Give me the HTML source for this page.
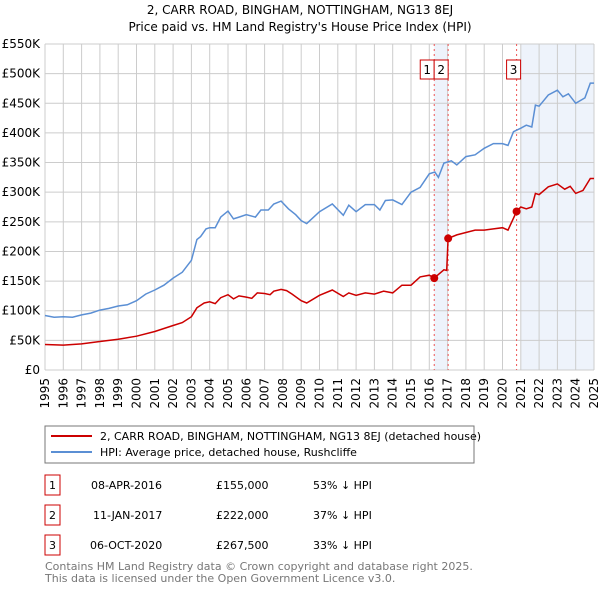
<!DOCTYPE html>
<html><head><meta charset="utf-8"><style>
body{margin:0;background:#fff;font-family:"Liberation Sans","DejaVu Sans",sans-serif;}
svg text{font-family:"DejaVu Sans","Liberation Sans",sans-serif;}
</style></head><body>
<svg id="c" width="600" height="590" xmlns="http://www.w3.org/2000/svg">
<text x="300" y="14" font-size="12" text-anchor="middle" fill="#000">2, CARR ROAD, BINGHAM, NOTTINGHAM, NG13 8EJ</text>
<text x="300" y="31" font-size="12" text-anchor="middle" fill="#000">Price paid vs. HM Land Registry's House Price Index (HPI)</text>
<g id="grid"></g><g id="marks"></g>
<rect x="45" y="426" width="429" height="37" fill="#fff" stroke="#777"/>
<line x1="51" y1="436" x2="92" y2="436" stroke="#cc0000" stroke-width="2"/>
<text x="100" y="440" font-size="11">2, CARR ROAD, BINGHAM, NOTTINGHAM, NG13 8EJ (detached house)</text>
<line x1="51" y1="452" x2="92" y2="452" stroke="#5b8fd4" stroke-width="2"/>
<text x="100" y="456" font-size="11">HPI: Average price, detached house, Rushcliffe</text>
<g font-size="11">
<rect x="45" y="475" width="15" height="20" fill="none" stroke="#cc0000"/><text x="52.5" y="489" text-anchor="middle">1</text>
<text x="91" y="489">08-APR-2016</text><text x="216" y="489">£155,000</text><text x="313" y="489">53% ↓ HPI</text>
<rect x="45" y="505" width="15" height="20" fill="none" stroke="#cc0000"/><text x="52.5" y="519" text-anchor="middle">2</text>
<text x="93" y="519">11-JAN-2017</text><text x="216" y="519">£222,000</text><text x="313" y="519">37% ↓ HPI</text>
<rect x="45" y="535" width="15" height="20" fill="none" stroke="#cc0000"/><text x="52.5" y="549" text-anchor="middle">3</text>
<text x="90" y="549">06-OCT-2020</text><text x="216" y="549">£267,500</text><text x="313" y="549">33% ↓ HPI</text>
</g>
<text x="45" y="570" font-size="11" fill="#777">Contains HM Land Registry data © Crown copyright and database right 2025.</text>
<text x="45" y="582" font-size="11" fill="#777">This data is licensed under the Open Government Licence v3.0.</text>
</svg>
<script>
const hpiT=[1995,1995.5,1996,1996.5,1997,1997.5,1998,1998.5,1999,1999.5,2000,2000.5,2001,2001.5,2002,2002.5,2003,2003.3,2003.5,2003.8,2004,2004.3,2004.6,2005,2005.3,2005.6,2006,2006.5,2006.8,2007.2,2007.5,2007.9,2008.3,2008.7,2009,2009.3,2010,2010.7,2011.3,2011.6,2012,2012.5,2013,2013.3,2013.6,2014,2014.5,2015,2015.5,2016,2016.3,2016.5,2016.8,2017.2,2017.5,2018,2018.5,2019,2019.5,2020,2020.3,2020.6,2021,2021.3,2021.6,2021.8,2022,2022.5,2023,2023.3,2023.6,2024,2024.5,2024.8,2025];
const hpiV=[92,89,90,89,93,96,101,104,108,110,117,128,135,143,155,165,185,220,225,238,240,240,258,268,255,258,262,258,270,270,280,285,272,262,252,247,267,280,261,278,267,279,279,270,286,287,279,300,308,331,334,325,349,353,346,360,363,374,382,382,379,402,408,413,410,447,445,464,472,461,466,450,459,484,484];
const priceT=[1995,1996,1997,1998,1999,2000,2001,2002,2002.5,2003,2003.3,2003.7,2004,2004.3,2004.6,2005,2005.3,2005.6,2006,2006.3,2006.6,2007,2007.3,2007.5,2007.9,2008.2,2008.5,2009,2009.3,2010,2010.7,2011.3,2011.6,2012,2012.5,2013,2013.5,2014,2014.5,2015,2015.5,2016,2016.27,2016.8,2016.95,2017.03,2017.5,2018,2018.5,2019,2019.5,2020,2020.3,2020.77,2021,2021.3,2021.6,2021.8,2022,2022.5,2023,2023.4,2023.7,2024,2024.4,2024.8,2025];
const priceV=[43,42,44,48,52,57,65,75,80,90,105,113,115,112,122,127,120,125,123,121,130,129,127,133,136,134,128,117,113,126,135,124,130,126,130,128,133,130,143,143,157,160,155,169,168,222,228,232,236,236,238,240,236,267.5,275,272,275,298,296,309,314,305,310,298,303,323,323];
const saleT=[2016.27,2017.03,2020.77];
const saleV=[155,222,267.5];
const saleLabels=["1","2","3"];
const yTicks=[0,50,100,150,200,250,300,350,400,450,500,550];
const yTickLabels=["£0","£50K","£100K","£150K","£200K","£250K","£300K","£350K","£400K","£450K","£500K","£550K"];
const years=[1995,1996,1997,1998,1999,2000,2001,2002,2003,2004,2005,2006,2007,2008,2009,2010,2011,2012,2013,2014,2015,2016,2017,2018,2019,2020,2021,2022,2023,2024,2025];
const NS="http://www.w3.org/2000/svg";
const X=t=>45+(t-1995)*549/30, Y=v=>370-v*326/550;
function mk(p,tag,a){const e=document.createElementNS(NS,tag);for(const k in a)e.setAttribute(k,a[k]);p.appendChild(e);return e;}
const g=document.getElementById('grid'),m=document.getElementById('marks');
let s=mk(g,'rect',{x:X(saleT[0]),y:44,width:X(saleT[1])-X(saleT[0]),height:326,fill:'#eef3fb'});


s=mk(g,'rect',{x:X(2021),y:44,width:X(2025)-X(2021),height:326,fill:'#eef3fb'});


yTicks.forEach((v,i)=>{
 const l=mk(g,'line',{x1:45,x2:594,y1:Y(v),y2:Y(v),stroke:'#ccc'});
 
 
 const t=mk(g,'text',{x:40,y:Y(v)+4,'font-size':12,'text-anchor':'end'});t.textContent=yTickLabels[i];
 
 
});
years.forEach(yr=>{
 const l=mk(g,'line',{x1:X(yr),x2:X(yr),y1:44,y2:370,stroke:'#ccc'});
 
 
 const tx=X(yr)+4, ty=378;
 const t=mk(g,'text',{x:tx,y:ty,'font-size':12,'text-anchor':'end',transform:'rotate(-90 '+tx+' '+ty+')'});t.textContent=yr;
 
 
});
saleT.forEach((t,i)=>{
 const l=mk(m,'line',{x1:X(t),x2:X(t),y1:44,y2:370,stroke:'#e55','stroke-dasharray':'2,3'});
 
 
 const bx=i==0?X(t)-14:(i==1?X(t)-14:X(t)-10);
 const r=mk(m,'rect',{x:bx,y:60,width:14,height:19,fill:'#fff',stroke:'#cc0000'});
 
 
 const tx=mk(m,'text',{x:bx+7,y:74,'font-size':12,'text-anchor':'middle'});tx.textContent=saleLabels[i];
 
 
});
function path(T,V){return T.map((t,i)=>(i?'L':'M')+X(t).toFixed(1)+','+Y(V[i]).toFixed(1)).join('');}
let p=mk(m,'path',{d:path(hpiT,hpiV),fill:'none',stroke:'#5b8fd4','stroke-width':1.5});


p=mk(m,'path',{d:path(priceT,priceV),fill:'none',stroke:'#cc0000','stroke-width':1.5});


saleT.forEach((t,i)=>{
 const c=mk(m,'circle',{cx:X(t),cy:Y(saleV[i]),r:4,fill:'#cc0000'});
 
 
});
</script>
</body></html>
